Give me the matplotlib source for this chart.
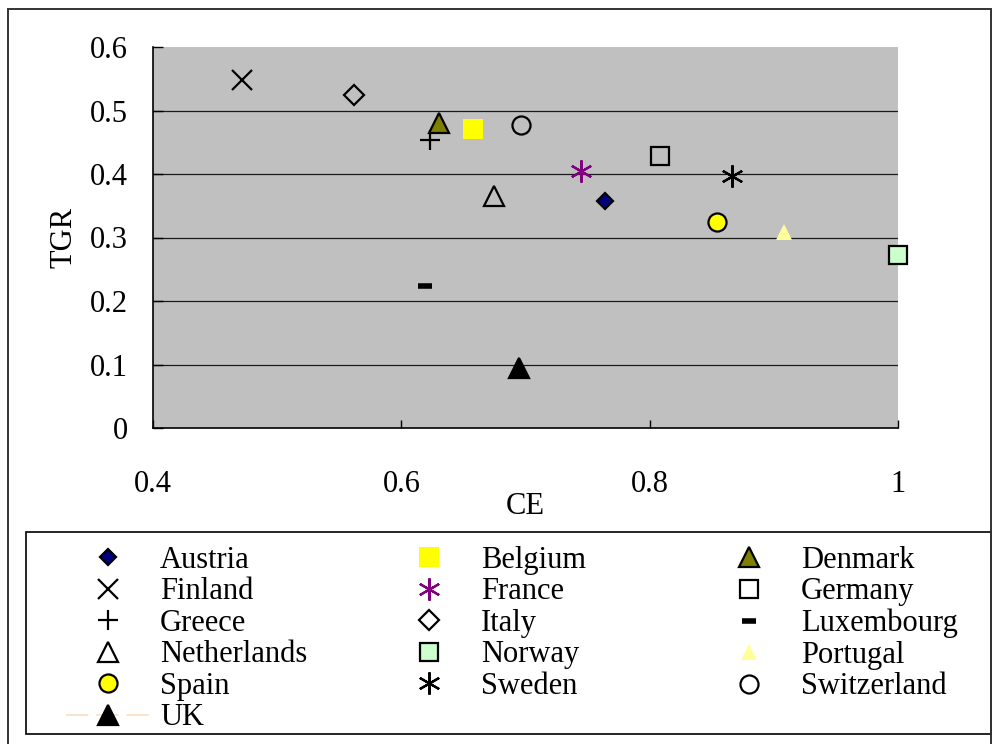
import matplotlib
matplotlib.use("Agg")
import matplotlib.pyplot as plt  # noqa: E402
from matplotlib.patches import Rectangle  # noqa: E402

plt.rcParams["font.family"] = "Liberation Serif"
plt.rcParams["font.size"] = 22

countries = ["Austria", "Belgium", "Denmark", "Finland", "France", "Germany",
             "Greece", "Italy", "Luxembourg", "Netherlands", "Norway",
             "Portugal", "Spain", "Sweden", "Switzerland", "UK"]
ce = [0.764, 0.658, 0.630, 0.472, 0.745, 0.808,
      0.623, 0.562, 0.619, 0.675, 1.000,
      0.908, 0.854, 0.866, 0.696, 0.695]
tgr = [0.358, 0.471, 0.480, 0.548, 0.405, 0.429,
       0.454, 0.524, 0.223, 0.366, 0.272,
       0.309, 0.325, 0.397, 0.477, 0.094]

xticks = [0.4, 0.6, 0.8, 1.0]
xticklabels = ["0.4", "0.6", "0.8", "1"]
yticks = [0, 0.1, 0.2, 0.3, 0.4, 0.5, 0.6]
yticklabels = ["0", "0.1", "0.2", "0.3", "0.4", "0.5", "0.6"]

ASTER = (6, 2, 0)
# marker, size, face, edge
styles = {
    "Austria":     ("D", 8.5, "#000080", "black"),
    "Belgium":     ("s", 14, "#FFFF00", "none"),
    "Denmark":     ("^", 14, "#808000", "black"),
    "Finland":     ("x", 14, "black", "black"),
    "France":      (ASTER, 16, "#800080", "#800080"),
    "Germany":     ("s", 13, "none", "black"),
    "Greece":      ("+", 15, "black", "black"),
    "Italy":       ("D", 10, "none", "black"),
    "Luxembourg":  ("_", 10, "black", "black"),
    "Netherlands": ("^", 14, "none", "black"),
    "Norway":      ("s", 12.5, "#CCFFCC", "black"),
    "Portugal":    ("^", 12, "#FFFF99", "none"),
    "Spain":       ("o", 13, "#FFFF00", "black"),
    "Sweden":      (ASTER, 16, "black", "black"),
    "Switzerland": ("o", 13, "none", "black"),
    "UK":          ("^", 14, "black", "black"),
}

fig = plt.figure(figsize=(9.93, 7.44), dpi=100)
ax = fig.add_axes([153 / 993, 1 - 428 / 744, 745 / 993, 381 / 744])
ax.set_facecolor("#C0C0C0")

handles = {}
for name, x, y in zip(countries, ce, tgr):
    m, ms, fc, ec = styles[name]
    mew = 4 if m == "_" else 1.6
    if name == "UK":
        # stray dashed trend-line style that shows up only in the legend key
        h, = ax.plot([x], [y], ls=(0, (11.5, 4)), lw=1.4, color="#FDE3CA",
                     marker=m, ms=ms, mfc=fc, mec=ec, mew=mew, clip_on=False,
                     zorder=3)
    else:
        h, = ax.plot([x], [y], ls="none", marker=m, ms=ms, mfc=fc, mec=ec,
                     mew=mew, clip_on=False, zorder=3)
    handles[name] = h

ax.set_xlim(0.4, 1.0)
ax.set_ylim(0, 0.6)
ax.set_xticks(xticks, xticklabels)
ax.set_yticks(yticks, yticklabels)
for y in yticks[1:-1]:
    ax.axhline(y, color="#1a1a1a", lw=0.9, zorder=1)
for s in ("top", "right"):
    ax.spines[s].set_visible(False)
for s in ("left", "bottom"):
    ax.spines[s].set_linewidth(1.2)
ax.tick_params(axis="x", direction="in", length=6, width=1, pad=30)
ax.tick_params(axis="y", direction="in", length=7, width=1, pad=18)
ax.set_xlabel("CE", labelpad=-5)
ax.set_ylabel("TGR", labelpad=8)

# legend: boxed, three equal-width columns filled row by row
fig.patches.append(Rectangle((26 / 993, 1 - 734 / 744), 965 / 993, 202 / 744,
                             transform=fig.transFigure, fill=False,
                             ec="black", lw=1.2))
fig.patches.append(Rectangle((8 / 993, -0.01), 983 / 993, 1 - 9 / 744 + 0.01,
                             transform=fig.transFigure, fill=False,
                             ec="#333333", lw=1.4))
for col, x0 in enumerate([66, 387, 707]):
    names = countries[col::3]
    leg = fig.legend([handles[n] for n in names], names, loc="upper left",
                     bbox_to_anchor=(x0 / 993, 1 - 546 / 744), frameon=False,
                     borderpad=0, borderaxespad=0, handlelength=2.75,
                     handletextpad=0.33, labelspacing=0.08, numpoints=1)

fig.savefig("out.png", dpi=100)
